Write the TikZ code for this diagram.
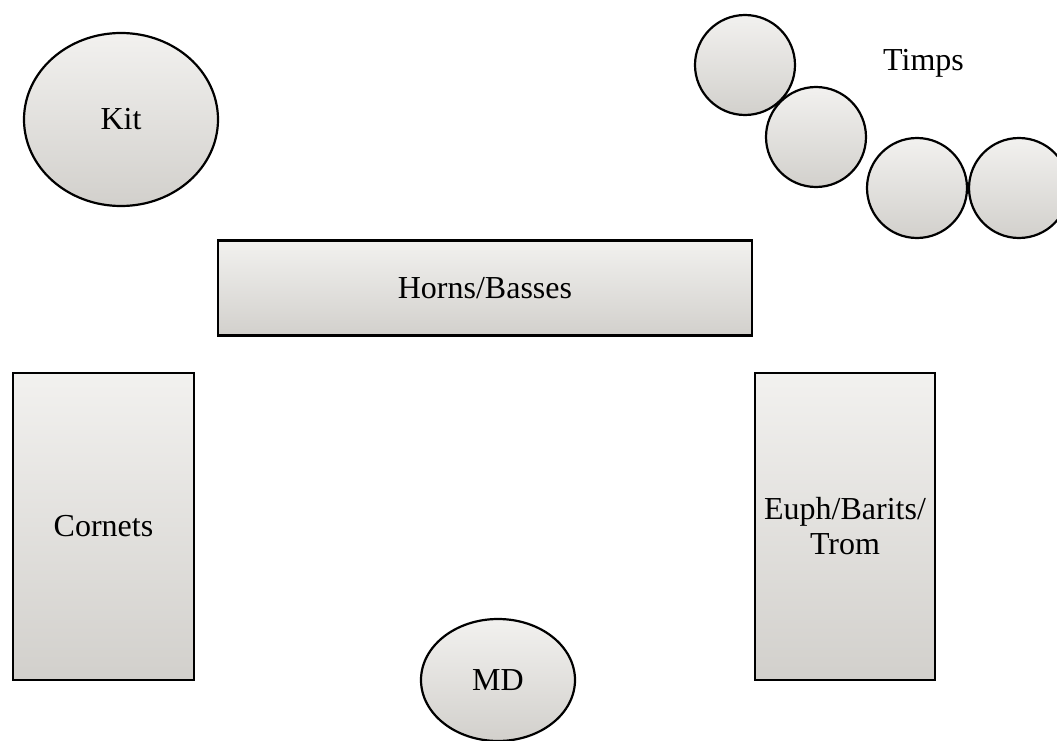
\documentclass[tikz,border=0pt]{standalone}
\usepackage{fontspec}
\setmainfont{Liberation Serif}
\usetikzlibrary{shapes.geometric}
\definecolor{shadetop}{HTML}{F2F1EF}
\definecolor{shadebot}{HTML}{D2D0CC}
\tikzstyle{section} = [draw, line width=2.2pt, top color=shadetop, bottom color=shadebot, font=\fontsize{32}{35}\selectfont, inner sep=0pt]
\tikzstyle{block} = [section, rectangle]
\tikzstyle{drum} = [section, ellipse]
\tikzstyle{timp} = [section, circle, minimum size=100pt]

\begin{document}
\begin{tikzpicture}[x=1pt,y=-1pt]
                \useasboundingbox (0,0) rectangle (1057,741);
                \clip (0,0) rectangle (1057,741);

                \node (kit) [drum, minimum width=194pt, minimum height=173pt] at (121,119.5) {Kit};
                \node (md) [drum, minimum width=154pt, minimum height=122pt] at (498,680) {MD};

                \node (horns) [block, minimum width=534pt, minimum height=95pt] at (485,288) {Horns/Basses};
                \node (cornets) [block, minimum width=181pt, minimum height=307pt] at (103.5,526.5) {Cornets};
                \node (euph) [block, minimum width=180pt, minimum height=307pt, align=center] at (845,526.5) {Euph/Barits/\\Trom};

                \node (timp1) [timp] at (745,65) {};
                \node (timp2) [timp] at (816,137) {};
                \node (timp3) [timp] at (917,188) {};
                \node (timp4) [timp] at (1019,188) {};
                \node (timps) [font=\fontsize{32}{35}\selectfont] at (923.5,63) {Timps};
            \end{tikzpicture}
\end{document}
